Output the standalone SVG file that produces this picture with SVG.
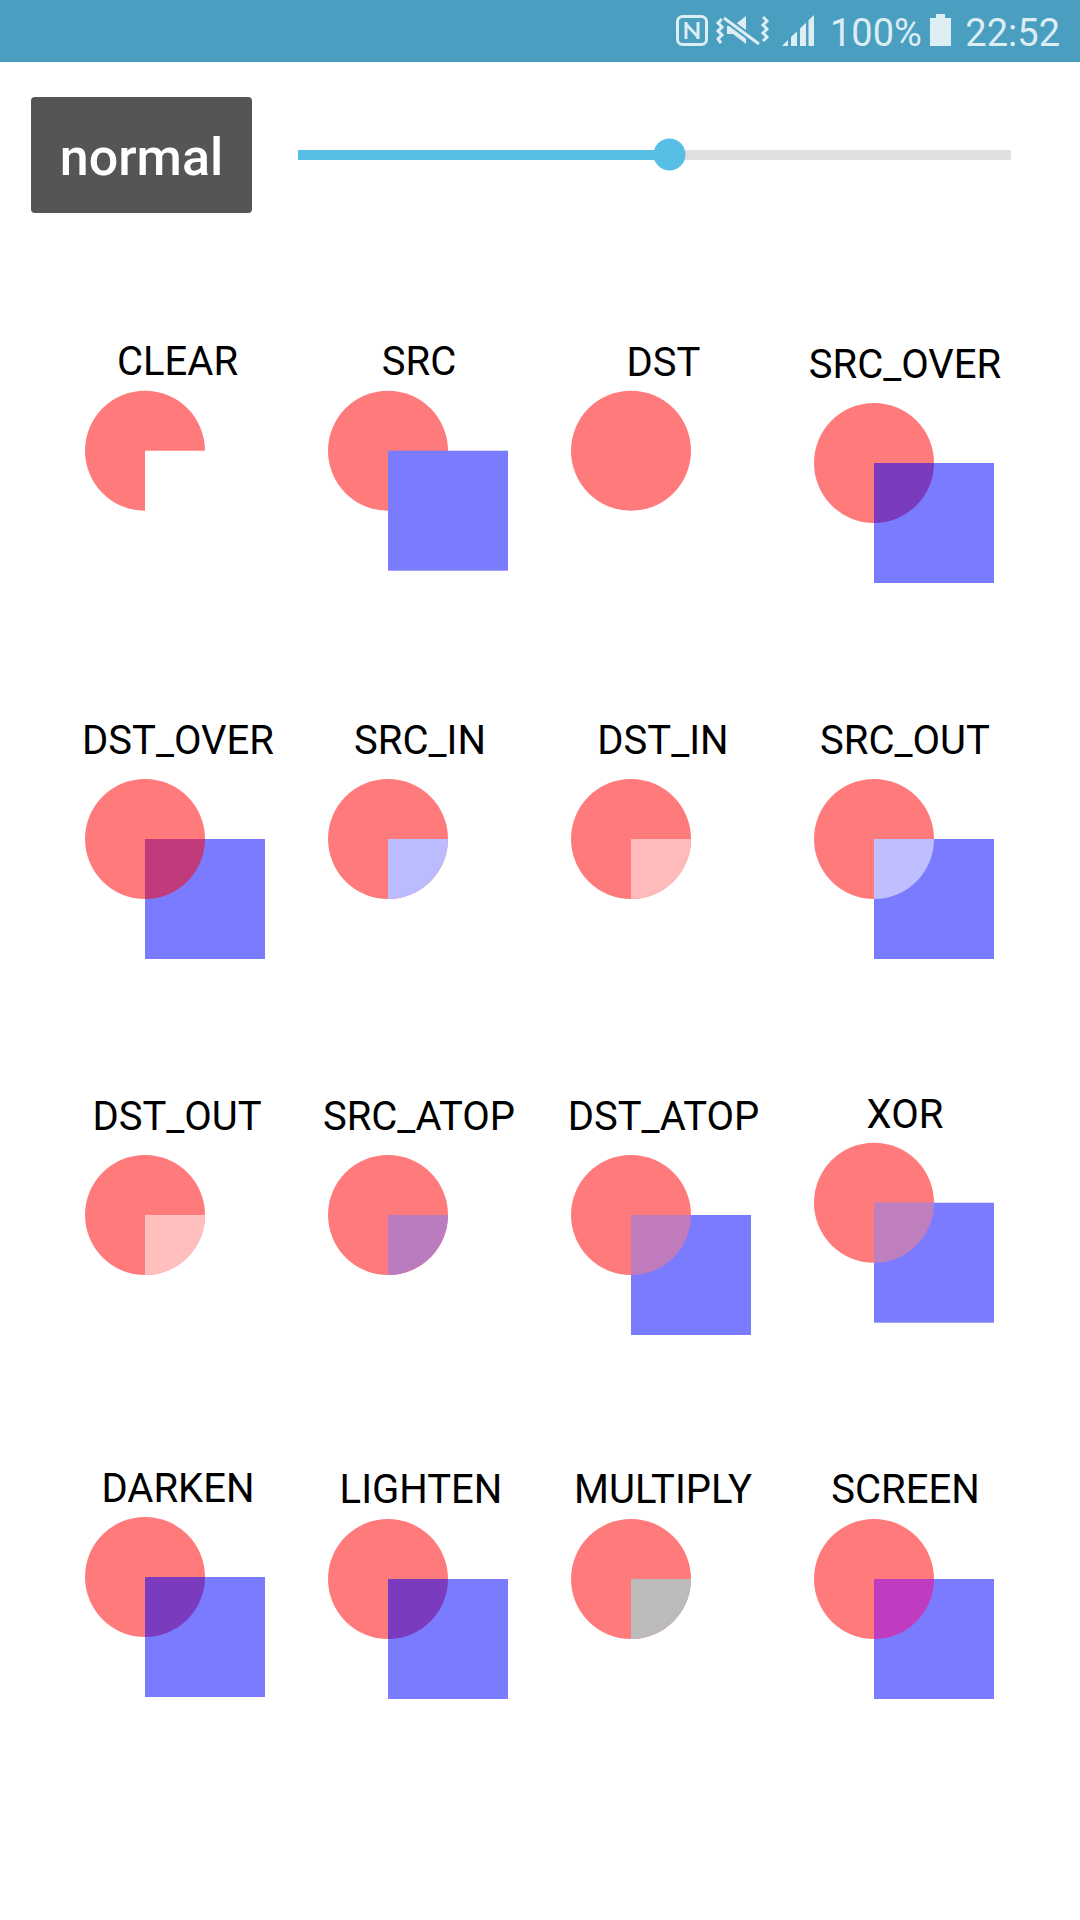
<svg xmlns="http://www.w3.org/2000/svg" xmlns:xlink="http://www.w3.org/1999/xlink" width="1080" height="1920" viewBox="0 0 1080 1920">
<style>
text{font-family:Roboto,"Liberation Sans",sans-serif}
.lbl{font-size:40px;fill:#000;text-anchor:middle}
.st{font-size:38px;fill:#DCEDF4}
.red{fill:#FF7B7B}
.blue{fill:#7B7BFF}
.ico{fill:#DCEDF4}
.icos{fill:none;stroke:#DCEDF4;stroke-width:3}
</style>
<defs>
<circle id="c" r="60"/>
<rect id="sq" width="120" height="120"/>
<path id="q" d="M0 0H60A60 60 0 0 1 0 60Z"/>
<path id="c3" d="M0 0V60A60 60 0 1 1 60 0Z"/>
</defs>
<rect width="1080" height="1920" fill="#fff"/>
<g id="status-bar">
<rect width="1080" height="62" fill="#4A9FC1"/>
<rect x="677.5" y="16.5" width="29" height="28" rx="5" class="icos"/>
<path d="M686 22V39M698 22V39M686 24L698 37" class="icos" stroke-width="3.5"/>
<path d="M722 19L718 23L722 27L718 31L722 35L718 39L721 43" class="icos" stroke-width="2"/>
<path d="M763 17L767 21L763 25L767 29L763 33L767 37L763 41" class="icos" stroke-width="2"/>
<path d="M727 26H733L746 16V44L733 34H727Z" class="ico"/>
<path d="M724 18L759 44" stroke="#4A9FC1" stroke-width="7"/>
<path d="M724 18L759 44" class="icos"/>
<polygon points="782,46 788,40 788,46" class="ico"/>
<polygon points="791,46 791,37 797,31.5 797,46" class="ico"/>
<polygon points="800,46 800,28.5 806,22.7 806,46" class="ico"/>
<polygon points="808.5,46 808.5,20.2 814,15 814,46" class="ico"/>
<text x="830" y="46" class="st">100%</text>
<rect x="936" y="14" width="9" height="5" class="ico"/>
<rect x="930" y="18" width="21" height="28" class="ico"/>
<text x="1060" y="46" class="st" text-anchor="end">22:52</text>
</g>
<g id="mode-button">
<rect x="31" y="97" width="221" height="116" rx="4" fill="#555457"/>
<text x="141.5" y="175" font-size="52" font-weight="500" fill="#fff" text-anchor="middle">normal</text>
</g>
<g id="slider">
<rect x="669" y="150" width="342" height="10" fill="#E1E0DE"/>
<rect x="298" y="150" width="371" height="10" fill="#57BFE5"/>
<circle cx="669.5" cy="154.5" r="16" fill="#57BFE5"/>
</g>

<g id="clear">
<text x="177.5" y="375" class="lbl">CLEAR</text>
<use xlink:href="#c3" x="145" y="450.7" class="red"/>
</g>
<g id="src">
<text x="419" y="375" class="lbl">SRC</text>
<use xlink:href="#c" x="388" y="450.7" class="red"/>
<use xlink:href="#sq" x="388" y="450.7" class="blue"/>
</g>
<g id="dst">
<text x="663.5" y="375.7" class="lbl">DST</text>
<use xlink:href="#c" x="631" y="450.7" class="red"/>
</g>
<g id="src-over">
<text x="905" y="378" class="lbl">SRC_OVER</text>
<use xlink:href="#c" x="874" y="463" class="red"/>
<use xlink:href="#sq" x="874" y="463" class="blue"/>
<use xlink:href="#q" x="874" y="463" fill="#7B3BBF"/>
</g>

<g id="dst-over">
<text x="178" y="754" class="lbl">DST_OVER</text>
<use xlink:href="#c" x="145" y="839" class="red"/>
<use xlink:href="#sq" x="145" y="839" class="blue"/>
<use xlink:href="#q" x="145" y="839" fill="#BF3B7B"/>
</g>
<g id="src-in">
<text x="420" y="754" class="lbl">SRC_IN</text>
<use xlink:href="#c" x="388" y="839" class="red"/>
<use xlink:href="#q" x="388" y="839" fill="#BBBBFF"/>
</g>
<g id="dst-in">
<text x="663" y="754" class="lbl">DST_IN</text>
<use xlink:href="#c" x="631" y="839" class="red"/>
<use xlink:href="#q" x="631" y="839" fill="#FFBBBB"/>
</g>
<g id="src-out">
<text x="905" y="754" class="lbl">SRC_OUT</text>
<use xlink:href="#c" x="874" y="839" class="red"/>
<use xlink:href="#sq" x="874" y="839" class="blue"/>
<use xlink:href="#q" x="874" y="839" fill="#BFBFFF"/>
</g>

<g id="dst-out">
<text x="177" y="1130" class="lbl">DST_OUT</text>
<use xlink:href="#c" x="145" y="1215" class="red"/>
<use xlink:href="#q" x="145" y="1215" fill="#FFBFBF"/>
</g>
<g id="src-atop">
<text x="419" y="1130" class="lbl">SRC_ATOP</text>
<use xlink:href="#c" x="388" y="1215" class="red"/>
<use xlink:href="#q" x="388" y="1215" fill="#BB7BBF"/>
</g>
<g id="dst-atop">
<text x="663.5" y="1130" class="lbl">DST_ATOP</text>
<use xlink:href="#c" x="631" y="1215" class="red"/>
<use xlink:href="#sq" x="631" y="1215" class="blue"/>
<use xlink:href="#q" x="631" y="1215" fill="#BF7BBB"/>
</g>
<g id="xor">
<text x="905" y="1127.7" class="lbl">XOR</text>
<use xlink:href="#c" x="874" y="1202.7" class="red"/>
<use xlink:href="#sq" x="874" y="1202.7" class="blue"/>
<use xlink:href="#q" x="874" y="1202.7" fill="#BF7FBF"/>
</g>

<g id="darken">
<text x="178" y="1502.3" class="lbl">DARKEN</text>
<use xlink:href="#c" x="145" y="1577" class="red"/>
<use xlink:href="#sq" x="145" y="1577" class="blue"/>
<use xlink:href="#q" x="145" y="1577" fill="#7B3BBF"/>
</g>
<g id="lighten">
<text x="421" y="1503.3" class="lbl">LIGHTEN</text>
<use xlink:href="#c" x="388" y="1579" class="red"/>
<use xlink:href="#sq" x="388" y="1579" class="blue"/>
<use xlink:href="#q" x="388" y="1579" fill="#7B3BBF"/>
</g>
<g id="multiply">
<text x="663" y="1503.3" class="lbl">MULTIPLY</text>
<use xlink:href="#c" x="631" y="1579" class="red"/>
<use xlink:href="#q" x="631" y="1579" fill="#BBBBBB"/>
</g>
<g id="screen">
<text x="905.5" y="1503.3" class="lbl">SCREEN</text>
<use xlink:href="#c" x="874" y="1579" class="red"/>
<use xlink:href="#sq" x="874" y="1579" class="blue"/>
<use xlink:href="#q" x="874" y="1579" fill="#BF3BBF"/>
</g>
</svg>
